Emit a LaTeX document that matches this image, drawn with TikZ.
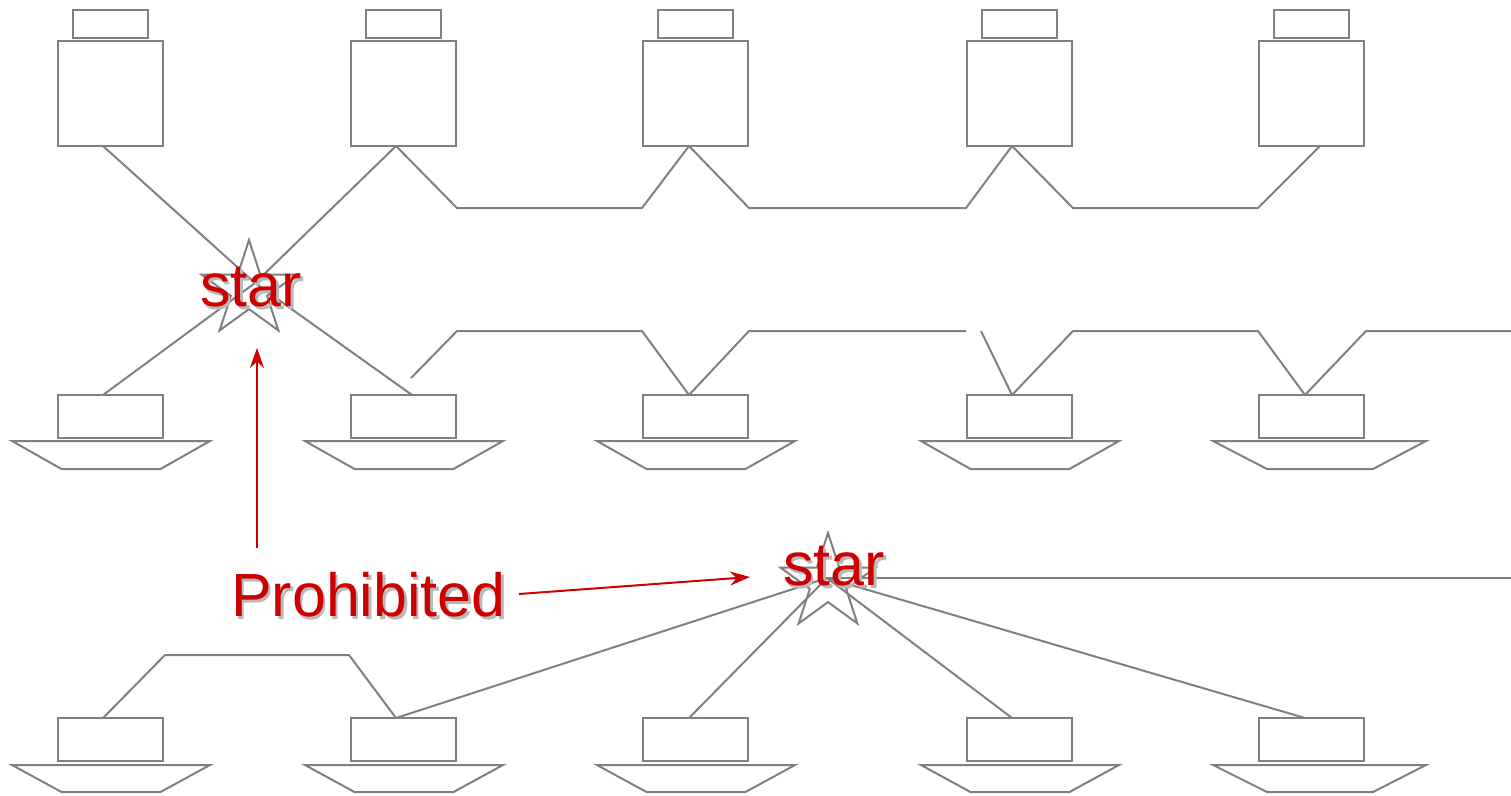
\documentclass[tikz,border=0pt]{standalone}
\usepackage{fontspec}
\setmainfont{Liberation Sans}
\usetikzlibrary{shapes.geometric,arrows.meta,calc}
\definecolor{wire}{RGB}{128,128,128}
\definecolor{alert}{RGB}{204,0,0}
\definecolor{shade}{RGB}{185,185,185}
\tikzset{
  wirestyle/.style={draw=wire,line width=2pt,line join=miter},
  screen/.style={wirestyle,rectangle,minimum width=105pt,minimum height=105pt,inner sep=0,outer sep=0},
  screencap/.style={wirestyle,rectangle,minimum width=75pt,minimum height=28pt,inner sep=0,outer sep=0},
  unitbox/.style={wirestyle,rectangle,minimum width=105pt,minimum height=43pt,inner sep=0,outer sep=0},
  hubstar/.style={wirestyle,star,star points=5,star point ratio=2.618,minimum size=100pt,inner sep=0,outer sep=0},
  bigtext/.style={font=\fontsize{61}{64}\selectfont,inner sep=0,anchor=base},
  redtext/.style={bigtext,text=alert},
  shadowtext/.style={bigtext,text=shade},
  redarrow/.style={draw=alert,line width=2pt,-{Stealth[length=20pt,width=14pt]}}
}
\begin{document}
\begin{tikzpicture}[x=1pt,y=-1pt]
\useasboundingbox (0,0) rectangle (1511,795);
% top row screens
\foreach \i/\c in {1/110.5,2/403.5,3/695.5,4/1019.5,5/1311.5}{
  \node[screencap] (cap\i) at (\c,24) {};
  \node[screen] (m\i) at (\c,93.5) {};
}
% middle and bottom row units
\foreach \i/\c in {1/110.5,2/403.5,3/695.5,4/1019.5,5/1311.5}{
  \node[unitbox] (u\i) at (\c,416.5) {};
  \node[unitbox] (b\i) at (\c,739.5) {};
}
% trapezoid bases
\foreach \c in {110.5,403.5,695.5,1019.5}{
  \draw[wirestyle] (\c-98.5,441) -- (\c+99.5,441) -- (\c+50,469) -- (\c-49,469) -- cycle;
  \draw[wirestyle] (\c-98.5,765) -- (\c+99.5,765) -- (\c+50,792) -- (\c-49,792) -- cycle;
}
\draw[wirestyle] (1213,441) -- (1426,441) -- (1373,469) -- (1267,469) -- cycle;
\draw[wirestyle] (1213,765) -- (1426,765) -- (1373,792) -- (1267,792) -- cycle;
% hubs
\coordinate (h1) at (255,283);
\coordinate (h2) at (827,578);
\node[hubstar] (s1) at (249,290) {};
\node[hubstar] (s2) at (828,583) {};
% top connectors
\draw[wirestyle] ($(m1.south)+(-7.5,0)$) -- (h1);
\draw[wirestyle] ($(m2.south)+(-7.5,0)$) -- (h1);
\draw[wirestyle] ($(m2.south)+(-7.5,0)$) -- (457,208) -- (642,208) -- ($(m3.south)+(-6.5,0)$)
  -- (749,208) -- (966,208) -- ($(m4.south)+(-7.5,0)$)
  -- (1073,208) -- (1258,208) -- ($(m5.south)+(8.5,0)$);
% middle connectors
\draw[wirestyle] ($(u1.north)+(-7.5,0)$) -- (h1);
\draw[wirestyle] ($(u2.north)+(8.5,0)$) -- (h1);
\coordinate (m2a) at (411,378);
\coordinate (m4a) at (981,331);
\coordinate (redge) at (1511,331);
\draw[wirestyle] (m2a) -- (457,331) -- (642,331) -- ($(u3.north)+(-6.5,0)$) -- (749,331) -- (966,331);
\draw[wirestyle] (m4a) -- ($(u4.north)+(-7.5,0)$) -- (1073,331) -- (1258,331)
  -- ($(u5.north)+(-6.5,0)$) -- (1366,331) -- (redge);
% bottom connectors
\draw[wirestyle] ($(b1.north)+(-7.5,0)$) -- (165,655) -- (349,655) -- ($(b2.north)+(-7.5,0)$);
\draw[wirestyle] ($(b2.north)+(-7.5,0)$) -- (h2);
\draw[wirestyle] ($(b3.north)+(-6.5,0)$) -- (h2);
\draw[wirestyle] ($(b4.north)+(-7.5,0)$) -- (h2);
\draw[wirestyle] ($(b5.north)+(-6.5,0)$) -- (h2);
\coordinate (bedge) at (1511,578);
\draw[wirestyle] (h2) -- (bedge);
% labels
\node[shadowtext] at (253.5,309) {star};
\node[redtext] (l1) at (251,306) {star};
\node[shadowtext] at (836.5,588) {star};
\node[redtext] (l2) at (834,585) {star};
\node[shadowtext] at (371,619) {Prohibited};
\node[redtext] (pr) at (368.5,616) {Prohibited};
% arrows
\coordinate (a1s) at (257,548);
\coordinate (a1e) at (257,348);
\coordinate (a2s) at (519,594);
\coordinate (a2e) at (750,577);
\draw[redarrow] (a1s) -- (a1e);
\draw[redarrow] (a2s) -- (a2e);
\end{tikzpicture}
\end{document}
